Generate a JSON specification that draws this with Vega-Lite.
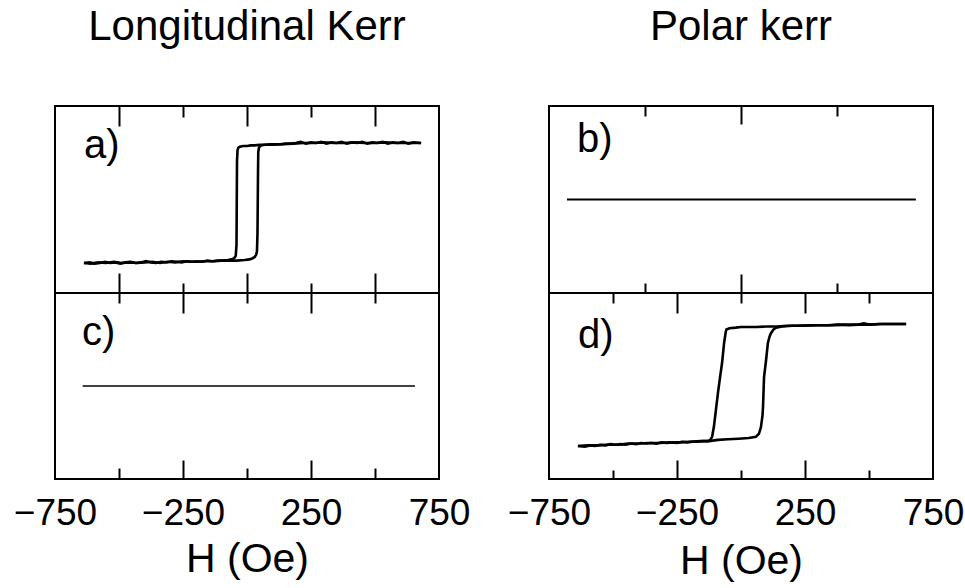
{
  "$schema": "https://vega.github.io/schema/vega-lite/v6.json",
  "padding": {"left": 12, "right": 0, "top": 5, "bottom": 0},
  "background": "white",
  "datasets": {
    "a": [
      {"H": -637, "M": -1.0, "branch": "down"}, {"H": -615, "M": -0.99, "branch": "down"}, {"H": -595, "M": -1.01, "branch": "down"}, {"H": -575, "M": -1.0, "branch": "down"}, {"H": -555, "M": -0.98, "branch": "down"}, {"H": -535, "M": -1.0, "branch": "down"}, {"H": -515, "M": -0.99, "branch": "down"}, {"H": -495, "M": -1.01, "branch": "down"}, {"H": -475, "M": -0.99, "branch": "down"}, {"H": -455, "M": -0.98, "branch": "down"}, {"H": -435, "M": -1.0, "branch": "down"}, {"H": -415, "M": -0.99, "branch": "down"}, {"H": -395, "M": -0.97, "branch": "down"}, {"H": -375, "M": -0.99, "branch": "down"}, {"H": -355, "M": -1.0, "branch": "down"}, {"H": -335, "M": -0.98, "branch": "down"}, {"H": -315, "M": -0.99, "branch": "down"}, {"H": -295, "M": -0.97, "branch": "down"}, {"H": -275, "M": -0.98, "branch": "down"}, {"H": -255, "M": -0.99, "branch": "down"}, {"H": -235, "M": -0.97, "branch": "down"}, {"H": -215, "M": -0.98, "branch": "down"}, {"H": -195, "M": -0.97, "branch": "down"}, {"H": -175, "M": -0.98, "branch": "down"}, {"H": -155, "M": -0.96, "branch": "down"}, {"H": -135, "M": -0.97, "branch": "down"}, {"H": -115, "M": -0.96, "branch": "down"}, {"H": -95, "M": -0.96, "branch": "down"}, {"H": -75, "M": -0.95, "branch": "down"}, {"H": -60, "M": -0.94, "branch": "down"}, {"H": -50, "M": -0.92, "branch": "down"}, {"H": -44, "M": -0.88, "branch": "down"}, {"H": -41, "M": -0.7, "branch": "down"}, {"H": -40, "M": 0.0, "branch": "down"}, {"H": -39, "M": 0.7, "branch": "down"}, {"H": -37, "M": 0.88, "branch": "down"}, {"H": -34, "M": 0.92, "branch": "down"}, {"H": -28, "M": 0.94, "branch": "down"}, {"H": -15, "M": 0.95, "branch": "down"}, {"H": 0, "M": 0.95, "branch": "down"}, {"H": 15, "M": 0.96, "branch": "down"}, {"H": 30, "M": 0.96, "branch": "down"}, {"H": 50, "M": 0.97, "branch": "down"}, {"H": 70, "M": 0.97, "branch": "down"}, {"H": 90, "M": 0.98, "branch": "down"}, {"H": 110, "M": 0.98, "branch": "down"}, {"H": 130, "M": 0.98, "branch": "down"}, {"H": 150, "M": 0.99, "branch": "down"}, {"H": 170, "M": 0.99, "branch": "down"}, {"H": 190, "M": 1.0, "branch": "down"}, {"H": 210, "M": 1.02, "branch": "down"}, {"H": 230, "M": 0.99, "branch": "down"}, {"H": 250, "M": 1.01, "branch": "down"}, {"H": 270, "M": 1.0, "branch": "down"}, {"H": 290, "M": 1.02, "branch": "down"}, {"H": 310, "M": 0.99, "branch": "down"}, {"H": 330, "M": 1.01, "branch": "down"}, {"H": 350, "M": 1.0, "branch": "down"}, {"H": 370, "M": 1.02, "branch": "down"}, {"H": 390, "M": 0.99, "branch": "down"}, {"H": 410, "M": 1.01, "branch": "down"}, {"H": 430, "M": 1.0, "branch": "down"}, {"H": 450, "M": 1.02, "branch": "down"}, {"H": 470, "M": 0.99, "branch": "down"}, {"H": 490, "M": 1.01, "branch": "down"}, {"H": 510, "M": 1.0, "branch": "down"}, {"H": 530, "M": 1.02, "branch": "down"}, {"H": 550, "M": 0.99, "branch": "down"}, {"H": 570, "M": 1.01, "branch": "down"}, {"H": 590, "M": 1.0, "branch": "down"}, {"H": 610, "M": 1.02, "branch": "down"}, {"H": 630, "M": 0.99, "branch": "down"}, {"H": 650, "M": 1.01, "branch": "down"}, {"H": 680, "M": 1.0, "branch": "down"},
      {"H": -637, "M": -1.0, "branch": "up"}, {"H": -610, "M": -1.01, "branch": "up"}, {"H": -580, "M": -0.99, "branch": "up"}, {"H": -550, "M": -1.0, "branch": "up"}, {"H": -520, "M": -0.98, "branch": "up"}, {"H": -490, "M": -1.0, "branch": "up"}, {"H": -460, "M": -0.99, "branch": "up"}, {"H": -430, "M": -1.0, "branch": "up"}, {"H": -400, "M": -0.99, "branch": "up"}, {"H": -370, "M": -0.98, "branch": "up"}, {"H": -340, "M": -1.0, "branch": "up"}, {"H": -310, "M": -0.98, "branch": "up"}, {"H": -280, "M": -0.99, "branch": "up"}, {"H": -250, "M": -0.97, "branch": "up"}, {"H": -220, "M": -0.98, "branch": "up"}, {"H": -190, "M": -0.98, "branch": "up"}, {"H": -160, "M": -0.97, "branch": "up"}, {"H": -130, "M": -0.97, "branch": "up"}, {"H": -100, "M": -0.96, "branch": "up"}, {"H": -70, "M": -0.96, "branch": "up"}, {"H": -40, "M": -0.96, "branch": "up"}, {"H": -10, "M": -0.95, "branch": "up"}, {"H": 10, "M": -0.94, "branch": "up"}, {"H": 22, "M": -0.92, "branch": "up"}, {"H": 30, "M": -0.9, "branch": "up"}, {"H": 36, "M": -0.86, "branch": "up"}, {"H": 39, "M": -0.8, "branch": "up"}, {"H": 41, "M": -0.5, "branch": "up"}, {"H": 42, "M": 0.0, "branch": "up"}, {"H": 43, "M": 0.5, "branch": "up"}, {"H": 44, "M": 0.85, "branch": "up"}, {"H": 47, "M": 0.93, "branch": "up"}, {"H": 55, "M": 0.96, "branch": "up"}, {"H": 70, "M": 0.97, "branch": "up"}, {"H": 100, "M": 0.97, "branch": "up"}, {"H": 140, "M": 0.98, "branch": "up"}, {"H": 180, "M": 0.99, "branch": "up"}, {"H": 220, "M": 1.0, "branch": "up"}, {"H": 260, "M": 1.0, "branch": "up"}, {"H": 300, "M": 1.01, "branch": "up"}, {"H": 340, "M": 1.0, "branch": "up"}, {"H": 380, "M": 1.0, "branch": "up"}, {"H": 420, "M": 1.01, "branch": "up"}, {"H": 460, "M": 1.0, "branch": "up"}, {"H": 500, "M": 1.0, "branch": "up"}, {"H": 540, "M": 1.01, "branch": "up"}, {"H": 580, "M": 1.0, "branch": "up"}, {"H": 620, "M": 1.0, "branch": "up"}, {"H": 680, "M": 1.0, "branch": "up"}
    ],
    "b": [{"H": -680, "M": 0.0}, {"H": 683, "M": 0.0}],
    "c": [{"H": -642, "M": 0.0}, {"H": 656, "M": 0.0}],
    "d": [
      {"H": -637, "M": -1.0, "branch": "down"}, {"H": -610, "M": -1.01, "branch": "down"}, {"H": -590, "M": -0.99, "branch": "down"}, {"H": -570, "M": -1.0, "branch": "down"}, {"H": -550, "M": -0.98, "branch": "down"}, {"H": -530, "M": -0.99, "branch": "down"}, {"H": -510, "M": -0.97, "branch": "down"}, {"H": -490, "M": -0.98, "branch": "down"}, {"H": -470, "M": -0.97, "branch": "down"}, {"H": -450, "M": -0.98, "branch": "down"}, {"H": -430, "M": -0.96, "branch": "down"}, {"H": -410, "M": -0.97, "branch": "down"}, {"H": -390, "M": -0.95, "branch": "down"}, {"H": -370, "M": -0.96, "branch": "down"}, {"H": -350, "M": -0.95, "branch": "down"}, {"H": -330, "M": -0.96, "branch": "down"}, {"H": -310, "M": -0.94, "branch": "down"}, {"H": -290, "M": -0.95, "branch": "down"}, {"H": -270, "M": -0.94, "branch": "down"}, {"H": -250, "M": -0.95, "branch": "down"}, {"H": -230, "M": -0.93, "branch": "down"}, {"H": -210, "M": -0.94, "branch": "down"}, {"H": -190, "M": -0.93, "branch": "down"}, {"H": -170, "M": -0.93, "branch": "down"}, {"H": -150, "M": -0.92, "branch": "down"}, {"H": -130, "M": -0.92, "branch": "down"}, {"H": -120, "M": -0.9, "branch": "down"}, {"H": -113, "M": -0.85, "branch": "down"}, {"H": -106, "M": -0.69, "branch": "down"}, {"H": -98, "M": -0.41, "branch": "down"}, {"H": -90, "M": -0.13, "branch": "down"}, {"H": -82, "M": 0.12, "branch": "down"}, {"H": -74, "M": 0.36, "branch": "down"}, {"H": -66, "M": 0.69, "branch": "down"}, {"H": -60, "M": 0.86, "branch": "down"}, {"H": -57, "M": 0.91, "branch": "down"}, {"H": -45, "M": 0.93, "branch": "down"}, {"H": -20, "M": 0.94, "branch": "down"}, {"H": 0, "M": 0.95, "branch": "down"}, {"H": 30, "M": 0.95, "branch": "down"}, {"H": 60, "M": 0.95, "branch": "down"}, {"H": 100, "M": 0.96, "branch": "down"}, {"H": 140, "M": 0.96, "branch": "down"}, {"H": 180, "M": 0.97, "branch": "down"}, {"H": 220, "M": 0.97, "branch": "down"}, {"H": 260, "M": 0.98, "branch": "down"}, {"H": 300, "M": 0.98, "branch": "down"}, {"H": 340, "M": 0.98, "branch": "down"}, {"H": 380, "M": 0.99, "branch": "down"}, {"H": 420, "M": 0.98, "branch": "down"}, {"H": 460, "M": 0.99, "branch": "down"}, {"H": 480, "M": 1.01, "branch": "down"}, {"H": 500, "M": 0.99, "branch": "down"}, {"H": 540, "M": 1.0, "branch": "down"}, {"H": 580, "M": 1.0, "branch": "down"}, {"H": 610, "M": 1.0, "branch": "down"}, {"H": 645, "M": 1.0, "branch": "down"},
      {"H": -637, "M": -1.0, "branch": "up"}, {"H": -600, "M": -0.99, "branch": "up"}, {"H": -560, "M": -0.99, "branch": "up"}, {"H": -520, "M": -0.98, "branch": "up"}, {"H": -480, "M": -0.98, "branch": "up"}, {"H": -440, "M": -0.96, "branch": "up"}, {"H": -400, "M": -0.96, "branch": "up"}, {"H": -360, "M": -0.95, "branch": "up"}, {"H": -320, "M": -0.95, "branch": "up"}, {"H": -280, "M": -0.94, "branch": "up"}, {"H": -240, "M": -0.94, "branch": "up"}, {"H": -200, "M": -0.93, "branch": "up"}, {"H": -160, "M": -0.92, "branch": "up"}, {"H": -125, "M": -0.92, "branch": "up"}, {"H": -90, "M": -0.9, "branch": "up"}, {"H": -50, "M": -0.89, "branch": "up"}, {"H": -10, "M": -0.88, "branch": "up"}, {"H": 30, "M": -0.87, "branch": "up"}, {"H": 58, "M": -0.85, "branch": "up"}, {"H": 70, "M": -0.8, "branch": "up"}, {"H": 78, "M": -0.69, "branch": "up"}, {"H": 84, "M": -0.5, "branch": "up"}, {"H": 86, "M": -0.36, "branch": "up"}, {"H": 90, "M": 0.13, "branch": "up"}, {"H": 98, "M": 0.41, "branch": "up"}, {"H": 105, "M": 0.69, "branch": "up"}, {"H": 112, "M": 0.8, "branch": "up"}, {"H": 117, "M": 0.85, "branch": "up"}, {"H": 127, "M": 0.91, "branch": "up"}, {"H": 137, "M": 0.94, "branch": "up"}, {"H": 160, "M": 0.96, "branch": "up"}, {"H": 200, "M": 0.97, "branch": "up"}, {"H": 250, "M": 0.97, "branch": "up"}, {"H": 300, "M": 0.98, "branch": "up"}, {"H": 350, "M": 0.98, "branch": "up"}, {"H": 400, "M": 0.99, "branch": "up"}, {"H": 450, "M": 0.99, "branch": "up"}, {"H": 500, "M": 0.99, "branch": "up"}, {"H": 550, "M": 1.0, "branch": "up"}, {"H": 600, "M": 1.0, "branch": "up"}, {"H": 645, "M": 1.0, "branch": "up"}
    ]
  },
  "columns": 2,
  "spacing": {"row": 0, "column": 110},
  "bounds": "flush",
  "concat": [
    {
      "title": {"text": "Longitudinal Kerr", "anchor": "middle", "fontSize": 42, "font": "Liberation Sans", "fontWeight": "normal", "color": "black", "offset": 56},
      "width": 384, "height": 187,
      "resolve": {"axis": {"x": "independent"}},
      "layer": [
        {
          "data": {"name": "a"},
          "mark": {"type": "line", "color": "black", "strokeWidth": 2.6},
          "encoding": {
            "x": {"field": "H", "type": "quantitative", "scale": {"domain": [-750, 750], "nice": false, "zero": false},
              "axis": {"orient": "bottom", "values": [-500, -250, 0, 250, 500], "labels": false, "title": null,
                "tickSize": {"condition": {"test": "abs(datum.value) == 250", "value": -10}, "value": -20}}},
            "y": {"field": "M", "type": "quantitative", "scale": {"domain": [-1.5, 1.617], "nice": false, "zero": false}, "axis": null},
            "detail": {"field": "branch"}
          }
        },
        {
          "data": {"values": [{"H": -637, "M": 0.75, "t": "a)"}]},
          "mark": {"type": "text", "align": "left", "baseline": "alphabetic", "fontSize": 40, "font": "Liberation Sans", "color": "black"},
          "encoding": {
            "x": {"field": "H", "type": "quantitative",
              "axis": {"orient": "top", "values": [-500, -250, 0, 250, 500], "labels": false, "title": null,
                "tickSize": {"condition": {"test": "abs(datum.value) == 250", "value": -11}, "value": -20}}},
            "y": {"field": "M", "type": "quantitative", "axis": null},
            "text": {"field": "t"}
          }
        }
      ]
    },
    {
      "title": {"text": "Polar kerr", "anchor": "middle", "fontSize": 42, "font": "Liberation Sans", "fontWeight": "normal", "color": "black", "offset": 56},
      "width": 384, "height": 187,
      "resolve": {"axis": {"x": "independent"}},
      "layer": [
        {
          "data": {"name": "b"},
          "mark": {"type": "line", "color": "black", "strokeWidth": 2.2},
          "encoding": {
            "x": {"field": "H", "type": "quantitative", "scale": {"domain": [-750, 750], "nice": false, "zero": false},
              "axis": {"orient": "bottom", "values": [-375, 0, 375], "labels": false, "title": null,
                "tickSize": {"condition": {"test": "datum.value == 0", "value": -19}, "value": -10}}},
            "y": {"field": "M", "type": "quantitative", "scale": {"domain": [-1, 1], "nice": false, "zero": false}, "axis": null}
          }
        },
        {
          "data": {"values": [{"H": -641, "M": 0.508, "t": "b)"}]},
          "mark": {"type": "text", "align": "left", "baseline": "alphabetic", "fontSize": 40, "font": "Liberation Sans", "color": "black"},
          "encoding": {
            "x": {"field": "H", "type": "quantitative",
              "axis": {"orient": "top", "values": [-375, 0, 375], "labels": false, "title": null,
                "tickSize": {"condition": {"test": "datum.value == 0", "value": -18}, "value": -10}}},
            "y": {"field": "M", "type": "quantitative", "axis": null},
            "text": {"field": "t"}
          }
        }
      ]
    },
    {
      "width": 384, "height": 186,
      "resolve": {"axis": {"x": "independent"}},
      "layer": [
        {
          "data": {"name": "c"},
          "mark": {"type": "line", "color": "black", "strokeWidth": 1.4},
          "encoding": {
            "x": {"field": "H", "type": "quantitative", "scale": {"domain": [-750, 750], "nice": false, "zero": false},
              "axis": {"orient": "bottom", "values": [-750, -500, -250, 0, 250, 500, 750],
                "labelExpr": "abs(datum.value) == 250 || abs(datum.value) == 750 ? datum.label : ''",
                "labelFlush": false, "labelOverlap": false, "labelPadding": 35,
                "tickOpacity": {"condition": {"test": "abs(datum.value) == 750", "value": 0}, "value": 1},
                "tickSize": {"condition": {"test": "abs(datum.value) == 250 || abs(datum.value) == 750", "value": -19}, "value": -11},
                "title": "H (Oe)", "titlePadding": 0}},
            "y": {"field": "M", "type": "quantitative", "scale": {"domain": [-1, 1], "nice": false, "zero": false}, "axis": null}
          }
        },
        {
          "data": {"values": [{"H": -645, "M": 0.444, "t": "c)"}]},
          "mark": {"type": "text", "align": "left", "baseline": "alphabetic", "fontSize": 40, "font": "Liberation Sans", "color": "black"},
          "encoding": {
            "x": {"field": "H", "type": "quantitative",
              "axis": {"orient": "top", "values": [-500, -250, 0, 250, 500], "labels": false, "title": null,
                "tickSize": {"condition": {"test": "abs(datum.value) == 250", "value": -20}, "value": -10}}},
            "y": {"field": "M", "type": "quantitative", "axis": null},
            "text": {"field": "t"}
          }
        }
      ]
    },
    {
      "width": 384, "height": 186,
      "resolve": {"axis": {"x": "independent"}},
      "layer": [
        {
          "data": {"name": "d"},
          "mark": {"type": "line", "color": "black", "strokeWidth": 2.6},
          "encoding": {
            "x": {"field": "H", "type": "quantitative", "scale": {"domain": [-750, 750], "nice": false, "zero": false},
              "axis": {"orient": "bottom", "values": [-750, -500, -250, 0, 250, 500, 750],
                "labelExpr": "abs(datum.value) == 250 || abs(datum.value) == 750 ? datum.label : ''",
                "labelFlush": false, "labelOverlap": false, "labelPadding": 35,
                "tickOpacity": {"condition": {"test": "abs(datum.value) == 750", "value": 0}, "value": 1},
                "tickSize": {"condition": {"test": "abs(datum.value) == 250 || abs(datum.value) == 750", "value": -19}, "value": -9},
                "title": "H (Oe)", "titlePadding": 0}},
            "y": {"field": "M", "type": "quantitative", "scale": {"domain": [-1.541, 1.508], "nice": false, "zero": false}, "axis": null},
            "detail": {"field": "branch"}
          }
        },
        {
          "data": {"values": [{"H": -637, "M": 0.606, "t": "d)"}]},
          "mark": {"type": "text", "align": "left", "baseline": "alphabetic", "fontSize": 40, "font": "Liberation Sans", "color": "black"},
          "encoding": {
            "x": {"field": "H", "type": "quantitative",
              "axis": {"orient": "top", "values": [-500, -250, 0, 250, 500], "labels": false, "title": null,
                "tickSize": {"condition": {"test": "abs(datum.value) == 250", "value": -20}, "value": -10}}},
            "y": {"field": "M", "type": "quantitative", "axis": null},
            "text": {"field": "t"}
          }
        }
      ]
    }
  ],
  "config": {
    "view": {"stroke": "black", "strokeWidth": 2},
    "axis": {
      "domain": false, "grid": false,
      "tickColor": "black", "tickWidth": 2,
      "labelColor": "black", "labelFont": "Liberation Sans", "labelFontSize": 37, "labelFontWeight": "normal",
      "titleColor": "black", "titleFont": "Liberation Sans", "titleFontSize": 41, "titleFontWeight": "normal"
    }
  }
}
